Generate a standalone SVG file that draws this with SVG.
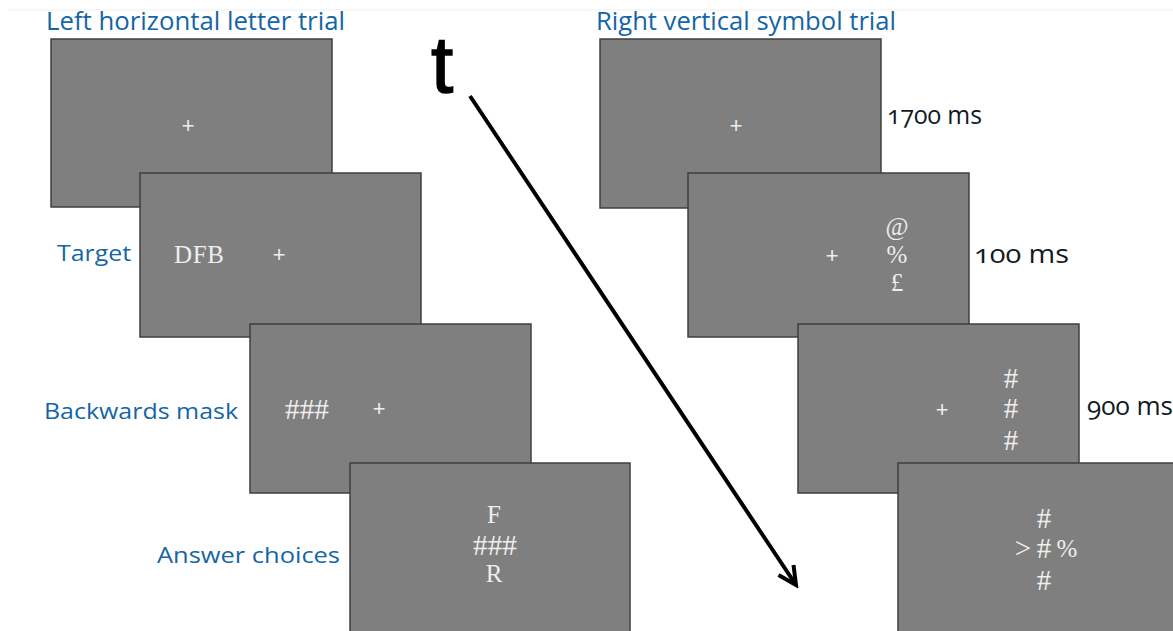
<svg xmlns="http://www.w3.org/2000/svg" width="1173" height="631" viewBox="0 0 1173 631">
<style>
.scr{fill:#7f7f7f;stroke:#3f3f3f;stroke-width:1.5}
.st{font-family:"Liberation Serif","Times New Roman",serif;fill:#eeeeee;font-size:25px;text-anchor:middle}
.hs{font-family:"Liberation Serif","Times New Roman",serif;fill:#eeeeee;font-size:29px;text-anchor:middle}
.pl{font-family:"Liberation Mono","Courier New",monospace;fill:#eeeeee;font-size:22px;text-anchor:middle}
.bl{font-family:"Open Sans","Noto Sans",sans-serif;fill:#1565a6}
.tm{font-family:"Open Sans","Noto Sans",sans-serif;fill:#111a24;font-size:26px;font-feature-settings:"onum" 1;font-variant-numeric:oldstyle-nums}
</style>
<defs>
<marker id="ah" viewBox="0 0 24 24" refX="20" refY="12" markerWidth="24" markerHeight="24" markerUnits="userSpaceOnUse" orient="auto">
<path d="M2,3 L20,12 L2,21" fill="none" stroke="#000" stroke-width="4"/>
</marker>
</defs>
<rect width="1173" height="631" fill="#fff"/>
<line x1="8" y1="10" x2="1173" y2="10" stroke="#f0f0f0" stroke-width="1"/>
<text class="bl" x="46" y="30" font-size="25" textLength="299" lengthAdjust="spacingAndGlyphs">Left horizontal letter trial</text>
<text class="bl" x="596" y="30" font-size="25" textLength="300" lengthAdjust="spacingAndGlyphs">Right vertical symbol trial</text>
<text x="431" y="92" font-family="Liberation Sans,Arial,sans-serif" font-size="80" fill="#000" stroke="#000" stroke-width="1.5">t</text>

<g id="left1"><rect class="scr" x="51" y="39" width="281" height="168"/><text class="pl" x="188" y="133">+</text></g>
<g id="left2"><rect class="scr" x="140" y="173" width="281" height="164"/><text class="st" x="199" y="263" textLength="50" lengthAdjust="spacing">DFB</text><text class="pl" x="279" y="262">+</text><text class="bl" x="57" y="261" font-size="22" textLength="74" lengthAdjust="spacingAndGlyphs">Target</text></g>
<g id="left3"><rect class="scr" x="250" y="324" width="281" height="169"/><text class="hs" x="307" y="419" textLength="44" lengthAdjust="spacingAndGlyphs">###</text><text class="pl" x="379" y="416">+</text><text class="bl" x="44" y="419" font-size="22" textLength="194" lengthAdjust="spacingAndGlyphs">Backwards mask</text></g>
<g id="left4"><rect class="scr" x="350" y="463" width="280" height="180"/><text class="st" x="494" y="523">F</text><text class="hs" x="495" y="555" textLength="44" lengthAdjust="spacingAndGlyphs">###</text><text class="st" x="494" y="582">R</text><text class="bl" x="157" y="563" font-size="22" textLength="183" lengthAdjust="spacingAndGlyphs">Answer choices</text></g>

<g id="right1"><rect class="scr" x="600" y="39" width="281" height="169"/><text class="pl" x="736" y="133">+</text><text class="tm" x="887" y="124" textLength="95" lengthAdjust="spacingAndGlyphs">1700 ms</text></g>
<g id="right2"><rect class="scr" x="688" y="173" width="281" height="164"/><text class="pl" x="832" y="263">+</text><text class="st" x="897" y="235" font-size="22">@</text><text class="st" x="897" y="263" font-size="22">%</text><text class="st" x="897" y="291" font-size="22">£</text><text class="tm" x="974" y="263" textLength="95" lengthAdjust="spacingAndGlyphs">100 ms</text></g>
<g id="right3"><rect class="scr" x="798" y="324" width="281" height="169"/><text class="pl" x="942" y="417">+</text><text class="hs" x="1011" y="388">#</text><text class="hs" x="1011" y="418">#</text><text class="hs" x="1011" y="450">#</text><text class="tm" x="1087" y="415" textLength="86" lengthAdjust="spacingAndGlyphs">900 ms</text></g>
<g id="right4"><rect class="scr" x="898" y="463" width="290" height="180"/><text class="hs" x="1044" y="528">#</text><text class="hs" x="1023" y="558">&gt;</text><text class="hs" x="1044" y="558">#</text><text class="st" x="1067" y="557" font-size="22">%</text><text class="hs" x="1044" y="590">#</text></g>

<g id="connectors">
<line x1="470" y1="96" x2="796" y2="585" stroke="#000" stroke-width="4" marker-end="url(#ah)"/>
</g>
</svg>
